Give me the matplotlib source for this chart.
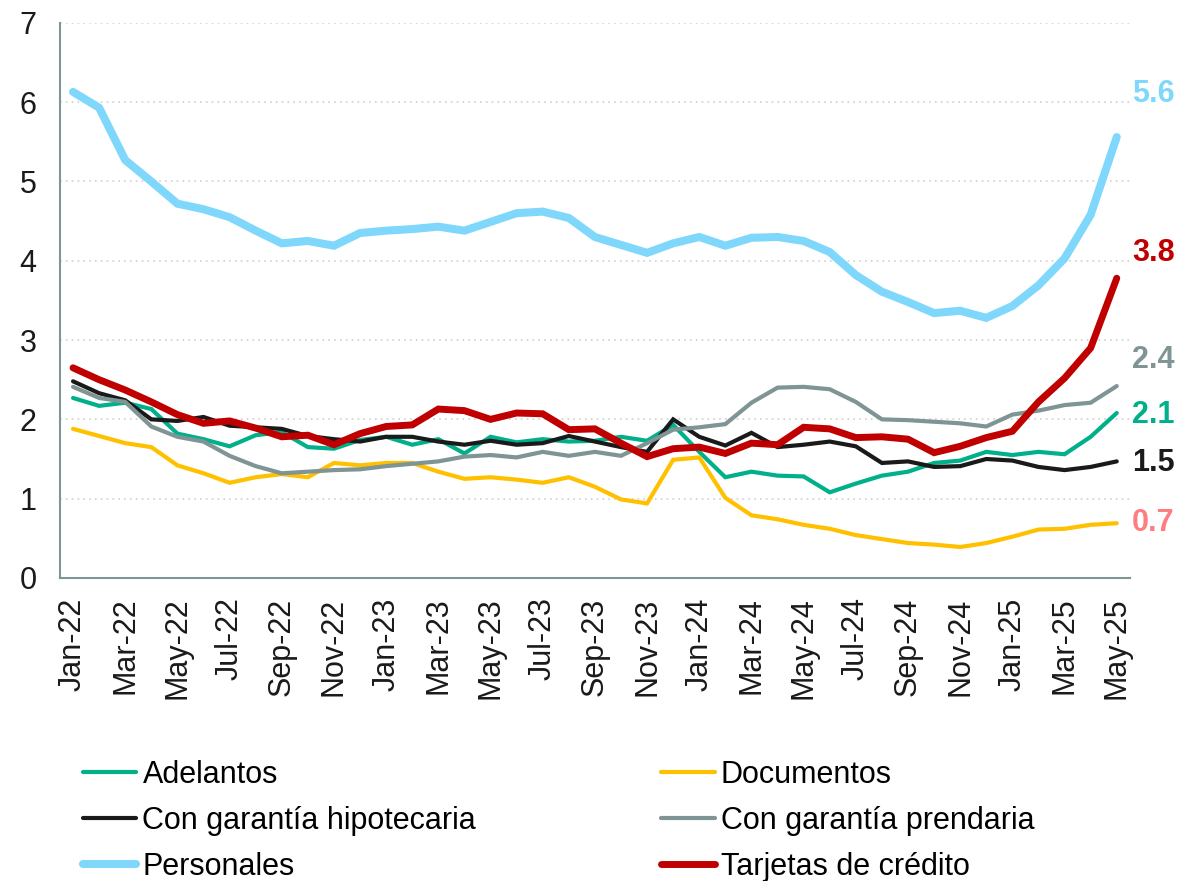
import matplotlib
matplotlib.use("Agg")
import matplotlib.pyplot as plt

plt.rcParams['font.family'] = ['Liberation Sans', 'DejaVu Sans']

meses = ["Jan", "Feb", "Mar", "Apr", "May", "Jun", "Jul", "Aug", "Sep", "Oct", "Nov", "Dec"]
fechas = [f"{m}-{a}" for a in ("22", "23", "24") for m in meses] + [f"{m}-25" for m in meses[:5]]

adelantos = [2.27, 2.17, 2.21, 2.13, 1.82, 1.75, 1.66, 1.80, 1.84, 1.65, 1.63, 1.74,
             1.78, 1.68, 1.75, 1.57, 1.78, 1.71, 1.75, 1.72, 1.73, 1.78, 1.73, 1.93,
             1.59, 1.27, 1.34, 1.29, 1.28, 1.08, 1.19, 1.29, 1.34, 1.45, 1.48, 1.59,
             1.55, 1.59, 1.56, 1.78, 2.08]
documentos = [1.88, 1.79, 1.70, 1.65, 1.42, 1.32, 1.20, 1.27, 1.31, 1.27, 1.45, 1.42,
              1.45, 1.45, 1.34, 1.25, 1.27, 1.24, 1.20, 1.27, 1.15, 0.99, 0.94, 1.49,
              1.52, 1.01, 0.79, 0.74, 0.67, 0.62, 0.54, 0.49, 0.44, 0.42, 0.39, 0.44,
              0.52, 0.61, 0.62, 0.67, 0.69]
hipotecaria = [2.48, 2.33, 2.24, 2.00, 1.98, 2.03, 1.92, 1.90, 1.88, 1.79, 1.75, 1.72,
               1.78, 1.78, 1.72, 1.68, 1.73, 1.68, 1.70, 1.79, 1.72, 1.65, 1.59, 2.00,
               1.78, 1.67, 1.83, 1.65, 1.68, 1.72, 1.66, 1.45, 1.47, 1.40, 1.41, 1.50,
               1.48, 1.40, 1.36, 1.40, 1.47]
prendaria = [2.41, 2.27, 2.22, 1.91, 1.78, 1.72, 1.54, 1.41, 1.32, 1.34, 1.36, 1.37,
             1.41, 1.44, 1.47, 1.53, 1.55, 1.52, 1.59, 1.54, 1.59, 1.54, 1.70, 1.87,
             1.90, 1.94, 2.21, 2.40, 2.41, 2.38, 2.22, 2.00, 1.99, 1.97, 1.95, 1.91,
             2.06, 2.11, 2.18, 2.21, 2.42]
personales = [6.13, 5.93, 5.27, 5.00, 4.72, 4.65, 4.55, 4.38, 4.22, 4.25, 4.19, 4.35,
              4.38, 4.40, 4.43, 4.38, 4.49, 4.60, 4.62, 4.54, 4.30, 4.20, 4.10, 4.22,
              4.30, 4.19, 4.29, 4.30, 4.25, 4.11, 3.82, 3.61, 3.48, 3.34, 3.37, 3.28,
              3.43, 3.69, 4.03, 4.58, 5.56]
tarjetas = [2.65, 2.50, 2.37, 2.22, 2.06, 1.95, 1.98, 1.89, 1.78, 1.80, 1.68, 1.82,
            1.91, 1.93, 2.13, 2.11, 2.00, 2.08, 2.07, 1.87, 1.88, 1.70, 1.53, 1.63,
            1.65, 1.57, 1.70, 1.68, 1.90, 1.88, 1.77, 1.78, 1.75, 1.58, 1.66, 1.77,
            1.85, 2.22, 2.52, 2.90, 3.78]

etiquetas = ["5.6", "3.8", "2.4", "2.1", "1.5", "0.7"]
etiqueta_y = [6.10, 4.10, 2.75, 2.06, 1.45, 0.69]
etiqueta_color = ["#7fd7fc", "#c00000", "#7f9494", "#00b08a", "#1a1a1a", "#ff7c80"]

fig = plt.figure(figsize=(11.88, 8.81), dpi=100)
ax = fig.add_axes([0.0505, 0.344, 0.9005, 0.63])

x = list(range(len(fechas)))
series = [
    ("Adelantos", adelantos, "#00b08a", 3.0),
    ("Documentos", documentos, "#ffc000", 3.0),
    ("Con garantía hipotecaria", hipotecaria, "#1a1a1a", 3.0),
    ("Con garantía prendaria", prendaria, "#7f9494", 3.0),
    ("Personales", personales, "#7fd7fc", 5.8),
    ("Tarjetas de crédito", tarjetas, "#c00000", 5.0),
]
lineas = {}
for nombre, valores, color, grosor in series:
    l, = ax.plot(x, valores, color=color, lw=grosor, solid_capstyle='round',
                 solid_joinstyle='miter', label=nombre)
    lineas[nombre] = l

ax.set_xlim(-0.5, 40.5)
ax.set_ylim(0, 7)
ax.set_yticks(range(0, 8))
ax.set_xticks(x[::2])
ax.set_xticklabels(fechas[::2], rotation=90)
ax.tick_params(axis='both', labelsize=22, length=0, colors='#1a1a1a')
ax.tick_params(axis='y', pad=17)
ax.tick_params(axis='x', pad=14)
ax.grid(axis='y', linestyle=(0, (1, 2.5)), color='#d0d0d0', lw=1.2)
ax.set_axisbelow(True)
for lado in ('top', 'right'):
    ax.spines[lado].set_visible(False)
for lado in ('left', 'bottom'):
    ax.spines[lado].set_color('#7f9494')
    ax.spines[lado].set_linewidth(1.5)

# etiquetas con el ultimo dato a la derecha
for texto, yv, c in zip(etiquetas, etiqueta_y, etiqueta_color):
    ax.text(1.002, yv, texto, transform=ax.get_yaxis_transform(), color=c,
            fontsize=22, fontweight='bold', ha='left', va='center')

orden = ["Adelantos", "Con garantía hipotecaria", "Personales",
         "Documentos", "Con garantía prendaria", "Tarjetas de crédito"]
fig.legend([lineas[n] for n in orden], orden, ncol=2, loc='lower left',
           bbox_to_anchor=(0.0646, -0.008), frameon=False, fontsize=22,
           handlelength=1.75, handletextpad=0.2, columnspacing=6.05,
           labelspacing=0.53, borderpad=0.2, borderaxespad=0.0)

fig.savefig("out.png", dpi=100)
